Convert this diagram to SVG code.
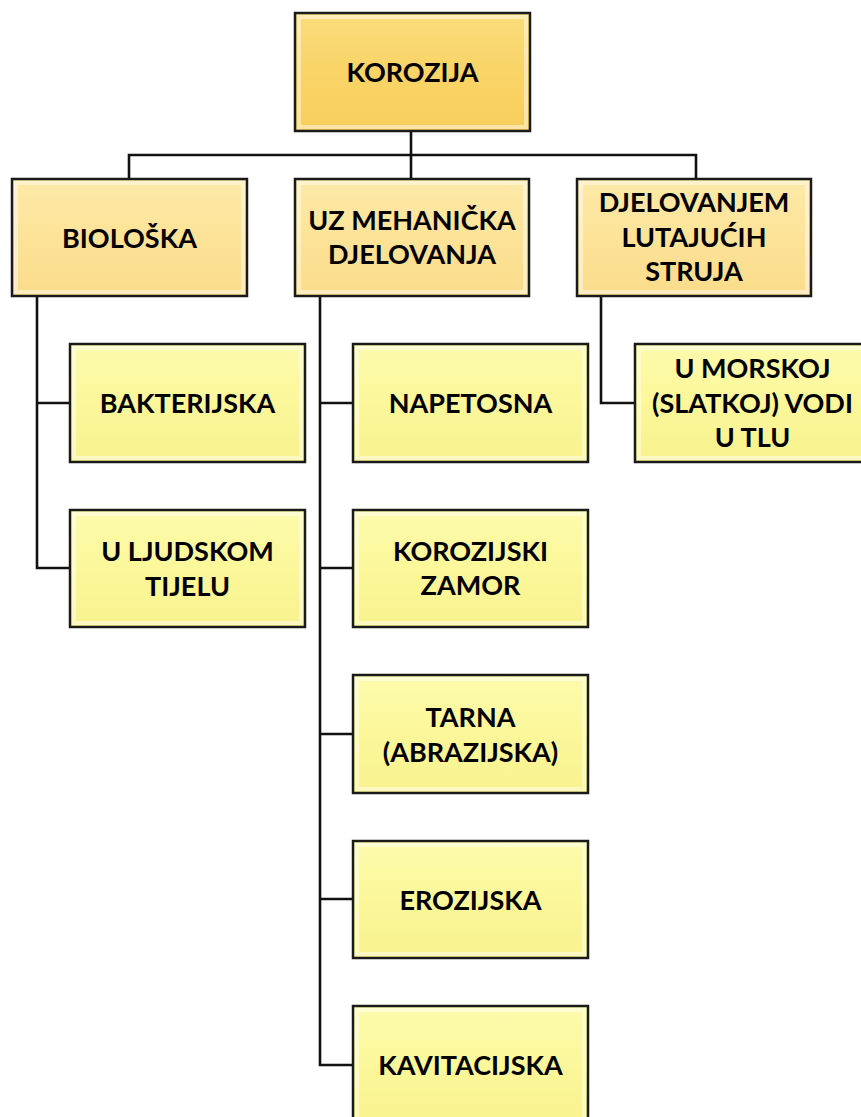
<svg xmlns="http://www.w3.org/2000/svg" width="861" height="1117" viewBox="0 0 861 1117">
<defs>
<linearGradient id="gRoot" x1="0" y1="0" x2="0" y2="1">
<stop offset="0" stop-color="#FBDD7E"/><stop offset="0.5" stop-color="#F9D466"/><stop offset="1" stop-color="#F7CE5C"/>
</linearGradient>
<linearGradient id="gL2" x1="0" y1="0" x2="0" y2="1">
<stop offset="0" stop-color="#FDEAA8"/><stop offset="0.5" stop-color="#FCE398"/><stop offset="1" stop-color="#FADC8A"/>
</linearGradient>
<linearGradient id="gL3" x1="0" y1="0" x2="0" y2="1">
<stop offset="0" stop-color="#FDFBAC"/><stop offset="0.5" stop-color="#FBF79A"/><stop offset="1" stop-color="#F8F28E"/>
</linearGradient>
<style>
.box{stroke:#1a1a1a;stroke-width:2.5}
.root{fill:url(#gRoot)}
.l2{fill:url(#gL2)}
.l3{fill:url(#gL3)}
.bev{fill:none;stroke:#ffffff;stroke-opacity:0.45;stroke-width:4}
.t{font-family:Lato,"Open Sans","Liberation Sans",sans-serif;font-weight:700;font-size:27px;fill:#000;text-anchor:middle}
.c{fill:none;stroke:#111;stroke-width:2.6}
</style>
</defs>
<g id="connectors">
<path class="c" d="M411 131 V155 M129 179 V155 H696 V179 M411 155 V179"/>
<path class="c" d="M37 296 V568 H70 M37 403 H70"/>
<path class="c" d="M320 296 V1065 H353 M320 403 H353 M320 568 H353 M320 734 H353 M320 899 H353"/>
<path class="c" d="M601 296 V403 H635"/>
</g>
<g id="n-korozija">
<rect class="box root" x="295" y="13" width="235" height="118"/>
<rect class="bev" x="299" y="17" width="227" height="110"/>
<text class="t" x="412.5" y="82">KOROZIJA</text>
</g>
<g id="n-bioloska">
<rect class="box l2" x="12" y="179" width="235" height="117"/>
<rect class="bev" x="16" y="183" width="227" height="109"/>
<text class="t" x="129.5" y="248">BIOLOŠKA</text>
</g>
<g id="n-mehanicka">
<rect class="box l2" x="295" y="179" width="234" height="117"/>
<rect class="bev" x="299" y="183" width="226" height="109"/>
<text class="t" x="412" y="230">UZ MEHANIČKA</text>
<text class="t" x="412" y="264">DJELOVANJA</text>
</g>
<g id="n-lutajucih">
<rect class="box l2" x="577" y="179" width="234" height="117"/>
<rect class="bev" x="581" y="183" width="226" height="109"/>
<text class="t" x="694" y="212">DJELOVANJEM</text>
<text class="t" x="694" y="247">LUTAJUĆIH</text>
<text class="t" x="694" y="281">STRUJA</text>
</g>
<g id="n-bakterijska">
<rect class="box l3" x="70" y="344" width="235" height="118"/>
<rect class="bev" x="74" y="348" width="227" height="110"/>
<text class="t" x="187.5" y="413">BAKTERIJSKA</text>
</g>
<g id="n-ljudskom">
<rect class="box l3" x="70" y="510" width="235" height="117"/>
<rect class="bev" x="74" y="514" width="227" height="109"/>
<text class="t" x="187.5" y="561">U LJUDSKOM</text>
<text class="t" x="187.5" y="596">TIJELU</text>
</g>
<g id="n-napetosna">
<rect class="box l3" x="353" y="344" width="235" height="118"/>
<rect class="bev" x="357" y="348" width="227" height="110"/>
<text class="t" x="470.5" y="413">NAPETOSNA</text>
</g>
<g id="n-zamor">
<rect class="box l3" x="353" y="510" width="235" height="117"/>
<rect class="bev" x="357" y="514" width="227" height="109"/>
<text class="t" x="470.5" y="561">KOROZIJSKI</text>
<text class="t" x="470.5" y="595">ZAMOR</text>
</g>
<g id="n-tarna">
<rect class="box l3" x="353" y="675" width="235" height="118"/>
<rect class="bev" x="357" y="679" width="227" height="110"/>
<text class="t" x="470.5" y="727">TARNA</text>
<text class="t" x="470.5" y="762">(ABRAZIJSKA)</text>
</g>
<g id="n-erozijska">
<rect class="box l3" x="353" y="841" width="235" height="117"/>
<rect class="bev" x="357" y="845" width="227" height="109"/>
<text class="t" x="470.5" y="910">EROZIJSKA</text>
</g>
<g id="n-kavitacijska">
<rect class="box l3" x="353" y="1006" width="235" height="118"/>
<rect class="bev" x="357" y="1010" width="227" height="110"/>
<text class="t" x="470.5" y="1075">KAVITACIJSKA</text>
</g>
<g id="n-morskoj">
<rect class="box l3" x="635" y="344" width="235" height="118"/>
<rect class="bev" x="639" y="348" width="227" height="110"/>
<text class="t" x="752.5" y="378">U MORSKOJ</text>
<text class="t" x="752.5" y="413">(SLATKOJ) VODI</text>
<text class="t" x="752.5" y="447">U TLU</text>
</g>
</svg>
